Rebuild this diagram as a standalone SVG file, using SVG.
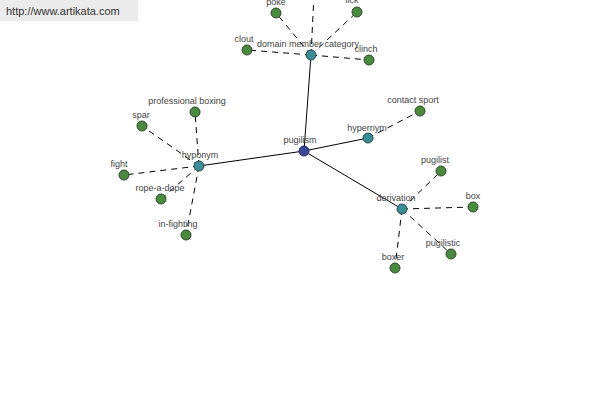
<svg xmlns="http://www.w3.org/2000/svg" width="600" height="400" viewBox="0 0 600 400">
<style>
.bg{fill:#ffffff}
.hdr{fill:#ebebeb}
.hdrt{font-family:"Liberation Sans",Arial,sans-serif;font-size:11px;fill:#333}
.lbl{font-family:"Liberation Sans",Arial,sans-serif;font-size:9px;fill:#444;text-anchor:middle}
.solid{stroke:#000;stroke-width:1;fill:none}
.dash{stroke:#000;stroke-width:1;fill:none;stroke-dasharray:6,5}
.leaf{fill:#4a8a3e;stroke:#2e4a2a;stroke-width:1}
.mid{fill:#3a8d96;stroke:#2a4a50;stroke-width:1}
.root{fill:#3a4a9a;stroke:#22285a;stroke-width:1}
</style>
<rect class="bg" x="0" y="0" width="600" height="400"/>
<g id="header">
<rect class="hdr" x="0" y="0" width="138" height="21"/>
<text class="hdrt" x="6" y="15">http://www.artikata.com</text>
</g>
<g id="connectors">
<line class="solid" x1="304" y1="151" x2="311" y2="55"/>
<line class="solid" x1="304" y1="151" x2="199" y2="166"/>
<line class="solid" x1="304" y1="151" x2="368" y2="138"/>
<line class="solid" x1="304" y1="151" x2="402" y2="209"/>
<line class="dash" x1="311" y1="55" x2="276" y2="13"/>
<line class="dash" x1="311" y1="55" x2="357" y2="12"/>
<line class="dash" x1="311" y1="55" x2="314" y2="-5"/>
<line class="dash" x1="311" y1="55" x2="247" y2="50"/>
<line class="dash" x1="311" y1="55" x2="369" y2="60"/>
<line class="dash" x1="199" y1="166" x2="195" y2="112"/>
<line class="dash" x1="199" y1="166" x2="142" y2="126"/>
<line class="dash" x1="199" y1="166" x2="124" y2="175"/>
<line class="dash" x1="199" y1="166" x2="161" y2="199"/>
<line class="dash" x1="199" y1="166" x2="186" y2="235"/>
<line class="dash" x1="368" y1="138" x2="420" y2="111"/>
<line class="dash" x1="402" y1="209" x2="441" y2="171"/>
<line class="dash" x1="402" y1="209" x2="473" y2="207"/>
<line class="dash" x1="402" y1="209" x2="451" y2="254"/>
<line class="dash" x1="402" y1="209" x2="395" y2="268"/>
</g>
<g id="n-pugilism"><circle class="root" cx="304" cy="151" r="5"/><text class="lbl" x="300" y="143">pugilism</text></g>
<g id="n-dmc"><circle class="mid" cx="311" cy="55" r="5"/><text class="lbl" x="308" y="47">domain member category</text></g>
<g id="n-hyponym"><circle class="mid" cx="199" cy="166" r="5"/><text class="lbl" x="200" y="158">hyponym</text></g>
<g id="n-hypernym"><circle class="mid" cx="368" cy="138" r="5"/><text class="lbl" x="367" y="131">hypernym</text></g>
<g id="n-derivation"><circle class="mid" cx="402" cy="209" r="5"/><text class="lbl" x="396" y="201">derivation</text></g>
<g id="n-poke"><circle class="leaf" cx="276" cy="13" r="5"/><text class="lbl" x="276" y="5">poke</text></g>
<g id="n-lick"><circle class="leaf" cx="357" cy="12" r="5"/><text class="lbl" x="352" y="3">lick</text></g>
<g id="n-clout"><circle class="leaf" cx="247" cy="50" r="5"/><text class="lbl" x="244" y="42">clout</text></g>
<g id="n-clinch"><circle class="leaf" cx="369" cy="60" r="5"/><text class="lbl" x="366" y="52">clinch</text></g>
<g id="n-professional-boxing"><circle class="leaf" cx="195" cy="112" r="5"/><text class="lbl" x="187" y="104">professional boxing</text></g>
<g id="n-spar"><circle class="leaf" cx="142" cy="126" r="5"/><text class="lbl" x="141" y="118">spar</text></g>
<g id="n-fight"><circle class="leaf" cx="124" cy="175" r="5"/><text class="lbl" x="119" y="167">fight</text></g>
<g id="n-rope-a-dope"><circle class="leaf" cx="161" cy="199" r="5"/><text class="lbl" x="160" y="191">rope-a-dope</text></g>
<g id="n-in-fighting"><circle class="leaf" cx="186" cy="235" r="5"/><text class="lbl" x="178" y="227">in-fighting</text></g>
<g id="n-contact-sport"><circle class="leaf" cx="420" cy="111" r="5"/><text class="lbl" x="413" y="103">contact sport</text></g>
<g id="n-pugilist"><circle class="leaf" cx="441" cy="171" r="5"/><text class="lbl" x="435" y="163">pugilist</text></g>
<g id="n-box"><circle class="leaf" cx="473" cy="207" r="5"/><text class="lbl" x="473" y="199">box</text></g>
<g id="n-pugilistic"><circle class="leaf" cx="451" cy="254" r="5"/><text class="lbl" x="443" y="246">pugilistic</text></g>
<g id="n-boxer"><circle class="leaf" cx="395" cy="268" r="5"/><text class="lbl" x="393" y="260">boxer</text></g>
</svg>
